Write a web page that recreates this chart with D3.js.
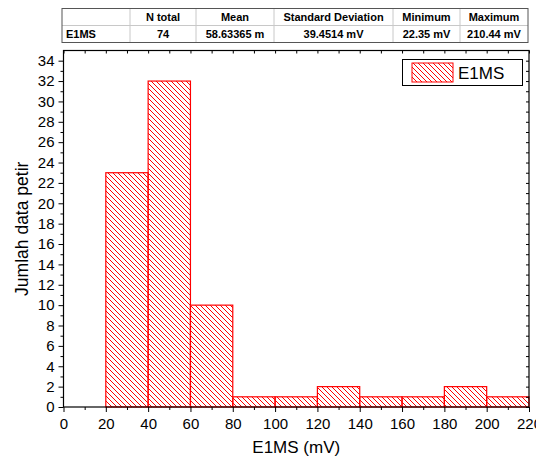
<!DOCTYPE html>
<html>
<head>
<meta charset="utf-8">
<script src="https://cdn.jsdelivr.net/npm/d3@7"></script>
<style>
    body { margin: 0; background: #fff; }
    svg { display: block; font-family: "Liberation Sans", Arial, sans-serif; }
</style>
</head>
<body>
<svg id="chart" width="536" height="458"></svg>
<script>
// histogram bins (mV) and counts
const binStart = [0, 20, 40, 60, 80, 100, 120, 140, 160, 180, 200];
const binEnd = [20, 40, 60, 80, 100, 120, 140, 160, 180, 200, 220];
const counts = [0, 23, 32, 10, 1, 1, 2, 1, 1, 2, 1];

// statistics table
const tableHeader = ["", "N total", "Mean", "Standard Deviation", "Minimum", "Maximum"];
const tableRow = ["E1MS", "74", "58.63365 m", "39.4514 mV", "22.35 mV", "210.44 mV"];

const xTicks = [0, 20, 40, 60, 80, 100, 120, 140, 160, 180, 200, 220];
const yTicks = [0, 2, 4, 6, 8, 10, 12, 14, 16, 18, 20, 22, 24, 26, 28, 30, 32, 34];

const red = "#ff0000";
const svg = d3.select("#chart");

// plot area
const plotLeft = 63.5, plotRight = 529, plotTop = 50.5, plotBottom = 407;

const x = d3.scaleLinear().domain([0, 220]).range([plotLeft, plotRight]);
const y = d3.scaleLinear().domain([0, 35]).range([plotBottom, plotTop]);

// hatch pattern
const defs = svg.append("defs");
const hatch = defs.append("pattern")
    .attr("id", "hatch")
    .attr("patternUnits", "userSpaceOnUse")
    .attr("width", 5)
    .attr("height", 5);
hatch.append("path")
    .attr("d", "M-1,-1 L6,6 M-1,4 L1,6 M4,-1 L6,1")
    .style("stroke", red)
    .style("stroke-width", 1);

// bars
const bins = binStart.map((s, i) => ({ s: s, e: binEnd[i], c: counts[i] }));
svg.append("g")
    .selectAll("rect")
    .data(bins.filter((d) => d.c > 0))
    .enter()
    .append("rect")
    .attr("x", (d) => x(d.s))
    .attr("y", (d) => y(d.c))
    .attr("width", (d) => x(d.e) - x(d.s))
    .attr("height", (d) => plotBottom - y(d.c))
    .style("fill", "url(#hatch)")
    .style("stroke", red)
    .style("stroke-width", 1.2);

// minor tick values
const xMinor = d3.range(10, 220, 20);
const yMinor = d3.range(1, 35, 2);

function styleAxis(g) {
    g.select(".domain").remove();
    g.selectAll("line").style("stroke", "#000");
    g.selectAll("text")
        .style("font-size", "15px")
        .style("font-family", "'Liberation Sans', Arial, sans-serif")
        .style("fill", "#000");
}

// bottom axis
svg.append("g")
    .attr("transform", "translate(0," + plotBottom + ")")
    .call(d3.axisBottom(x).tickValues(xTicks).tickSize(5).tickPadding(6))
    .call(styleAxis);
svg.append("g")
    .attr("transform", "translate(0," + plotBottom + ")")
    .call(d3.axisBottom(x).tickValues(xMinor).tickSize(3).tickFormat(""))
    .call(styleAxis);

// left axis
svg.append("g")
    .attr("transform", "translate(" + plotLeft + ",0)")
    .call(d3.axisLeft(y).tickValues(yTicks).tickSize(5).tickPadding(4))
    .call(styleAxis);
svg.append("g")
    .attr("transform", "translate(" + plotLeft + ",0)")
    .call(d3.axisLeft(y).tickValues(yMinor).tickSize(3).tickFormat(""))
    .call(styleAxis);

// top and right axis, ticks inside
svg.append("g")
    .attr("transform", "translate(0," + plotTop + ")")
    .call(d3.axisBottom(x).tickValues(xTicks.concat(xMinor)).tickSize(3).tickFormat(""))
    .call(styleAxis);
svg.append("g")
    .attr("transform", "translate(" + plotRight + ",0)")
    .call(d3.axisLeft(y).tickValues(yTicks.concat(yMinor)).tickSize(3).tickFormat(""))
    .call(styleAxis);

// frame
svg.append("rect")
    .attr("x", plotLeft)
    .attr("y", plotTop)
    .attr("width", plotRight - plotLeft)
    .attr("height", plotBottom - plotTop)
    .style("fill", "none")
    .style("stroke", "#000")
    .style("stroke-width", 1.2);

// axis titles
svg.append("text")
    .attr("x", (plotLeft + plotRight) / 2)
    .attr("y", 453)
    .attr("text-anchor", "middle")
    .style("font-size", "17px")
    .text("E1MS (mV)");

svg.append("text")
    .attr("text-anchor", "middle")
    .attr("transform", "translate(28," + (plotTop + plotBottom) / 2 + ")rotate(-90)")
    .style("font-size", "17.5px")
    .text("Jumlah data petir");

// legend
const legend = svg.append("g");
legend.append("rect")
    .attr("x", 402.5)
    .attr("y", 59.5)
    .attr("width", 120)
    .attr("height", 26)
    .style("fill", "#fff")
    .style("stroke", "#000");
legend.append("rect")
    .attr("x", 412)
    .attr("y", 63)
    .attr("width", 41)
    .attr("height", 19)
    .style("fill", "url(#hatch)")
    .style("stroke", red);
legend.append("text")
    .attr("x", 458)
    .attr("y", 79)
    .style("font-size", "17px")
    .text("E1MS");

// statistics table
const colX = [62, 130, 196, 274, 393, 460, 528];
const rowY = [8.5, 25.5, 42.5];
const table = svg.append("g");

// inner grid lines
colX.slice(1, -1).forEach((cx) => {
    table.append("line")
        .attr("x1", cx).attr("x2", cx)
        .attr("y1", rowY[0]).attr("y2", rowY[2])
        .style("stroke", "#c8c8c8");
});
table.append("line")
    .attr("x1", colX[0]).attr("x2", colX[6])
    .attr("y1", rowY[1]).attr("y2", rowY[1])
    .style("stroke", "#c8c8c8");
table.append("rect")
    .attr("x", colX[0])
    .attr("y", rowY[0])
    .attr("width", colX[6] - colX[0])
    .attr("height", rowY[2] - rowY[0])
    .style("fill", "none")
    .style("stroke", "#555");

[tableHeader, tableRow].forEach((row, r) => {
    row.forEach((txt, c) => {
        const first = r == 1 && c == 0;
        table.append("text")
            .attr("x", first ? colX[0] + 4 : (colX[c] + colX[c + 1]) / 2)
            .attr("y", rowY[r] + 12.5)
            .attr("text-anchor", first ? "start" : "middle")
            .style("font-size", "11px")
            .style("font-weight", "bold")
            .text(txt);
    });
});
</script>
</body>
</html>
